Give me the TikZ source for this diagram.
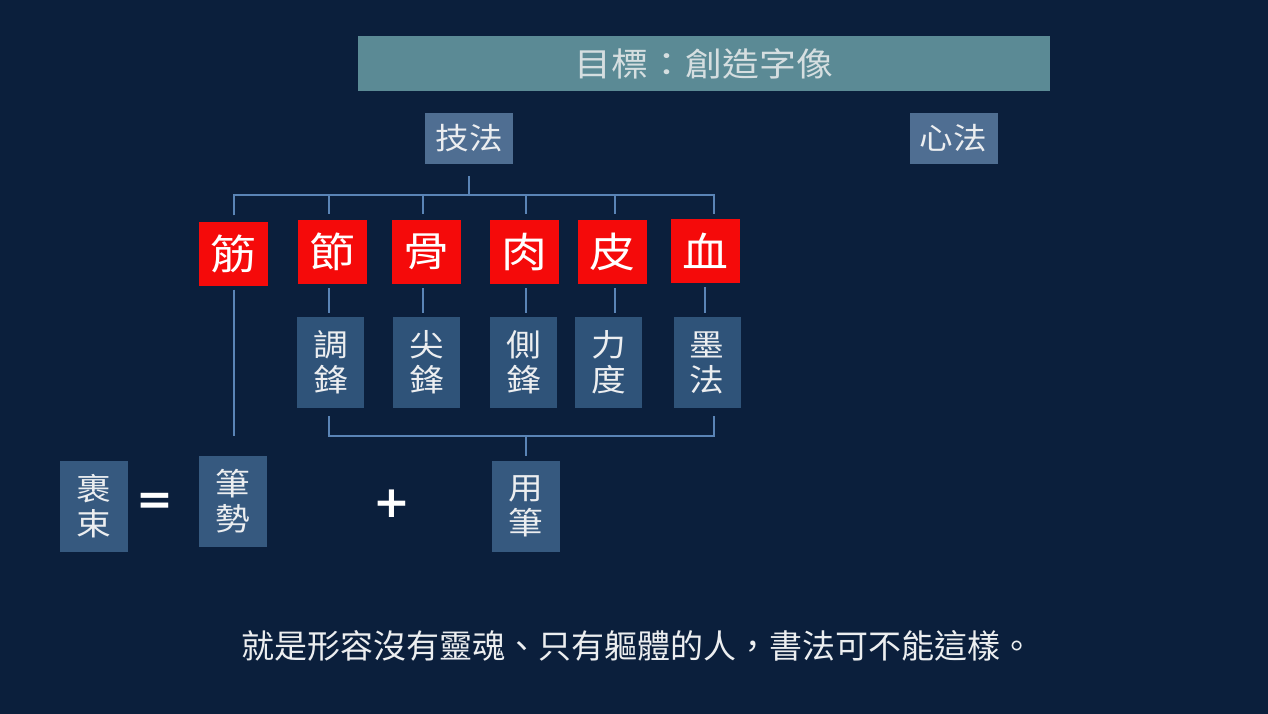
\documentclass[tikz,border=0pt]{standalone}
\usepackage{fontspec}
\usetikzlibrary{calc}
\newfontfamily\cjk[FakeStretch=1.12]{Noto Sans CJK TC}
\newfontfamily\cjksub{Noto Sans CJK TC}
\newfontfamily\symf{DejaVu Sans}
\definecolor{bg}{HTML}{0B1F3C}
\definecolor{titlebar}{HTML}{5B8A95}
\definecolor{titletext}{HTML}{D5DEE0}
\definecolor{methbox}{HTML}{4F6E92}
\definecolor{redbox}{HTML}{F50A0A}
\definecolor{midbox}{HTML}{2F5379}
\definecolor{lowbox}{HTML}{36597F}
\definecolor{conn}{HTML}{5A84B6}
\definecolor{lighttext}{HTML}{ECEEF0}
\tikzset{
  titlestyle/.style={fill=titlebar, text=titletext, minimum width=692pt, minimum height=55pt, inner sep=0pt, font=\cjk\fontsize{33}{36}\selectfont},
  methstyle/.style={fill=methbox, text=lighttext, minimum width=88pt, minimum height=51pt, inner sep=0pt, font=\cjk\fontsize{30}{33}\selectfont},
  redstyle/.style={fill=redbox, text=white, minimum width=69pt, minimum height=64pt, inner sep=0pt, font=\cjk\fontsize{41}{44}\selectfont},
  midstyle/.style={fill=midbox, text=lighttext, minimum width=67pt, minimum height=91pt, inner sep=0pt, align=center, font=\cjk\fontsize{31}{35}\selectfont},
  lowstyle/.style={fill=lowbox, text=lighttext, minimum width=68pt, minimum height=91pt, inner sep=0pt, align=center, font=\cjk\fontsize{31}{35}\selectfont},
  opstyle/.style={text=white, inner sep=0pt, font=\symf\bfseries\fontsize{44}{44}\selectfont},
  connstyle/.style={draw=conn, line width=2pt},
  subtitlestyle/.style={text=lighttext, inner sep=0pt, font=\cjksub\fontsize{33}{36}\selectfont}
}
\begin{document}
\begin{tikzpicture}[x=1pt,y=-1pt]
\fill[bg] (0,0) rectangle (1268,714);
\useasboundingbox (0,0) rectangle (1268,714);

\node[titlestyle] (title) at (704,63.5) {目標：創造字像};
\node[methstyle] (jifa) at (469,138.5) {技法};
\node[methstyle] (xinfa) at (953.5,138.5) {心法};

\node[redstyle] (jin) at (233,253.5) {筋};
\node[redstyle] (jie) at (332.5,252) {節};
\node[redstyle] (gu) at (426.5,252) {骨};
\node[redstyle] (rou) at (524.5,252) {肉};
\node[redstyle] (pi) at (612,252) {皮};
\node[redstyle] (xue) at (705.5,251) {血};

\node[midstyle] (tiao) at (330.5,362.5) {調\\鋒};
\node[midstyle] (jian) at (426.5,362.5) {尖\\鋒};
\node[midstyle] (ce) at (523.5,362.5) {側\\鋒};
\node[midstyle] (li) at (608.5,362.5) {力\\度};
\node[midstyle] (mo) at (707,362.5) {墨\\法};

\node[lowstyle] (guoshu) at (93.5,506.5) {裹\\束};
\node[lowstyle] (bishi) at (233,501) {筆\\勢};
\node[lowstyle] (yongbi) at (526,506.5) {用\\筆};
\node[opstyle] (eq) at (155,504) {=};
\node[opstyle] (plus) at (391.5,504) {+};

\node[subtitlestyle] (sub) at (637,646) {就是形容沒有靈魂、只有軀體的人，書法可不能這樣。};

% column positions of the vertical connectors
\coordinate (c1) at (234,0);
\coordinate (c2) at (329,0);
\coordinate (c3) at (423,0);
\coordinate (c4) at (526,0);
\coordinate (c5) at (615,0);
\coordinate (c6) at (714,0);
\coordinate (d6) at (705,0);
\coordinate (bar) at (0,195);
\coordinate (br) at (0,436);

% tree from 技法
\draw[connstyle] ($(jifa.south)+(0,12)$) -- (jifa.south |- bar);
\draw[connstyle] ($(jin.north -| c1)+(0,-6)$) -- (c1 |- bar) -- (c6 |- bar) -- ($(xue.north -| c6)+(0,-5)$);
\draw[connstyle] ($(jie.north -| c2)+(0,-6)$) -- (c2 |- bar);
\draw[connstyle] ($(gu.north -| c3)+(0,-6)$) -- (c3 |- bar);
\draw[connstyle] ($(rou.north -| c4)+(0,-6)$) -- (c4 |- bar);
\draw[connstyle] ($(pi.north -| c5)+(0,-6)$) -- (c5 |- bar);
% red to mid
\draw[connstyle] ($(jie.south -| c2)+(0,4)$) -- ($(tiao.north -| c2)+(0,-4)$);
\draw[connstyle] ($(gu.south -| c3)+(0,4)$) -- ($(jian.north -| c3)+(0,-4)$);
\draw[connstyle] ($(rou.south -| c4)+(0,4)$) -- ($(ce.north -| c4)+(0,-4)$);
\draw[connstyle] ($(pi.south -| c5)+(0,4)$) -- ($(li.north -| c5)+(0,-4)$);
\draw[connstyle] ($(xue.south -| d6)+(0,4)$) -- ($(mo.north -| d6)+(0,-4)$);
% 筋 to 筆勢
\draw[connstyle] ($(jin.south -| c1)+(0,4)$) -- ($(bishi.north -| c1)+(0,-19)$);
% bracket to 用筆
\draw[connstyle] ($(tiao.south -| c2)+(0,8)$) -- (c2 |- br) -- (c6 |- br) -- ($(mo.south -| c6)+(0,8)$);
\draw[connstyle] (yongbi.north |- br) -- ($(yongbi.north)+(0,-5)$);
\end{tikzpicture}
\end{document}
